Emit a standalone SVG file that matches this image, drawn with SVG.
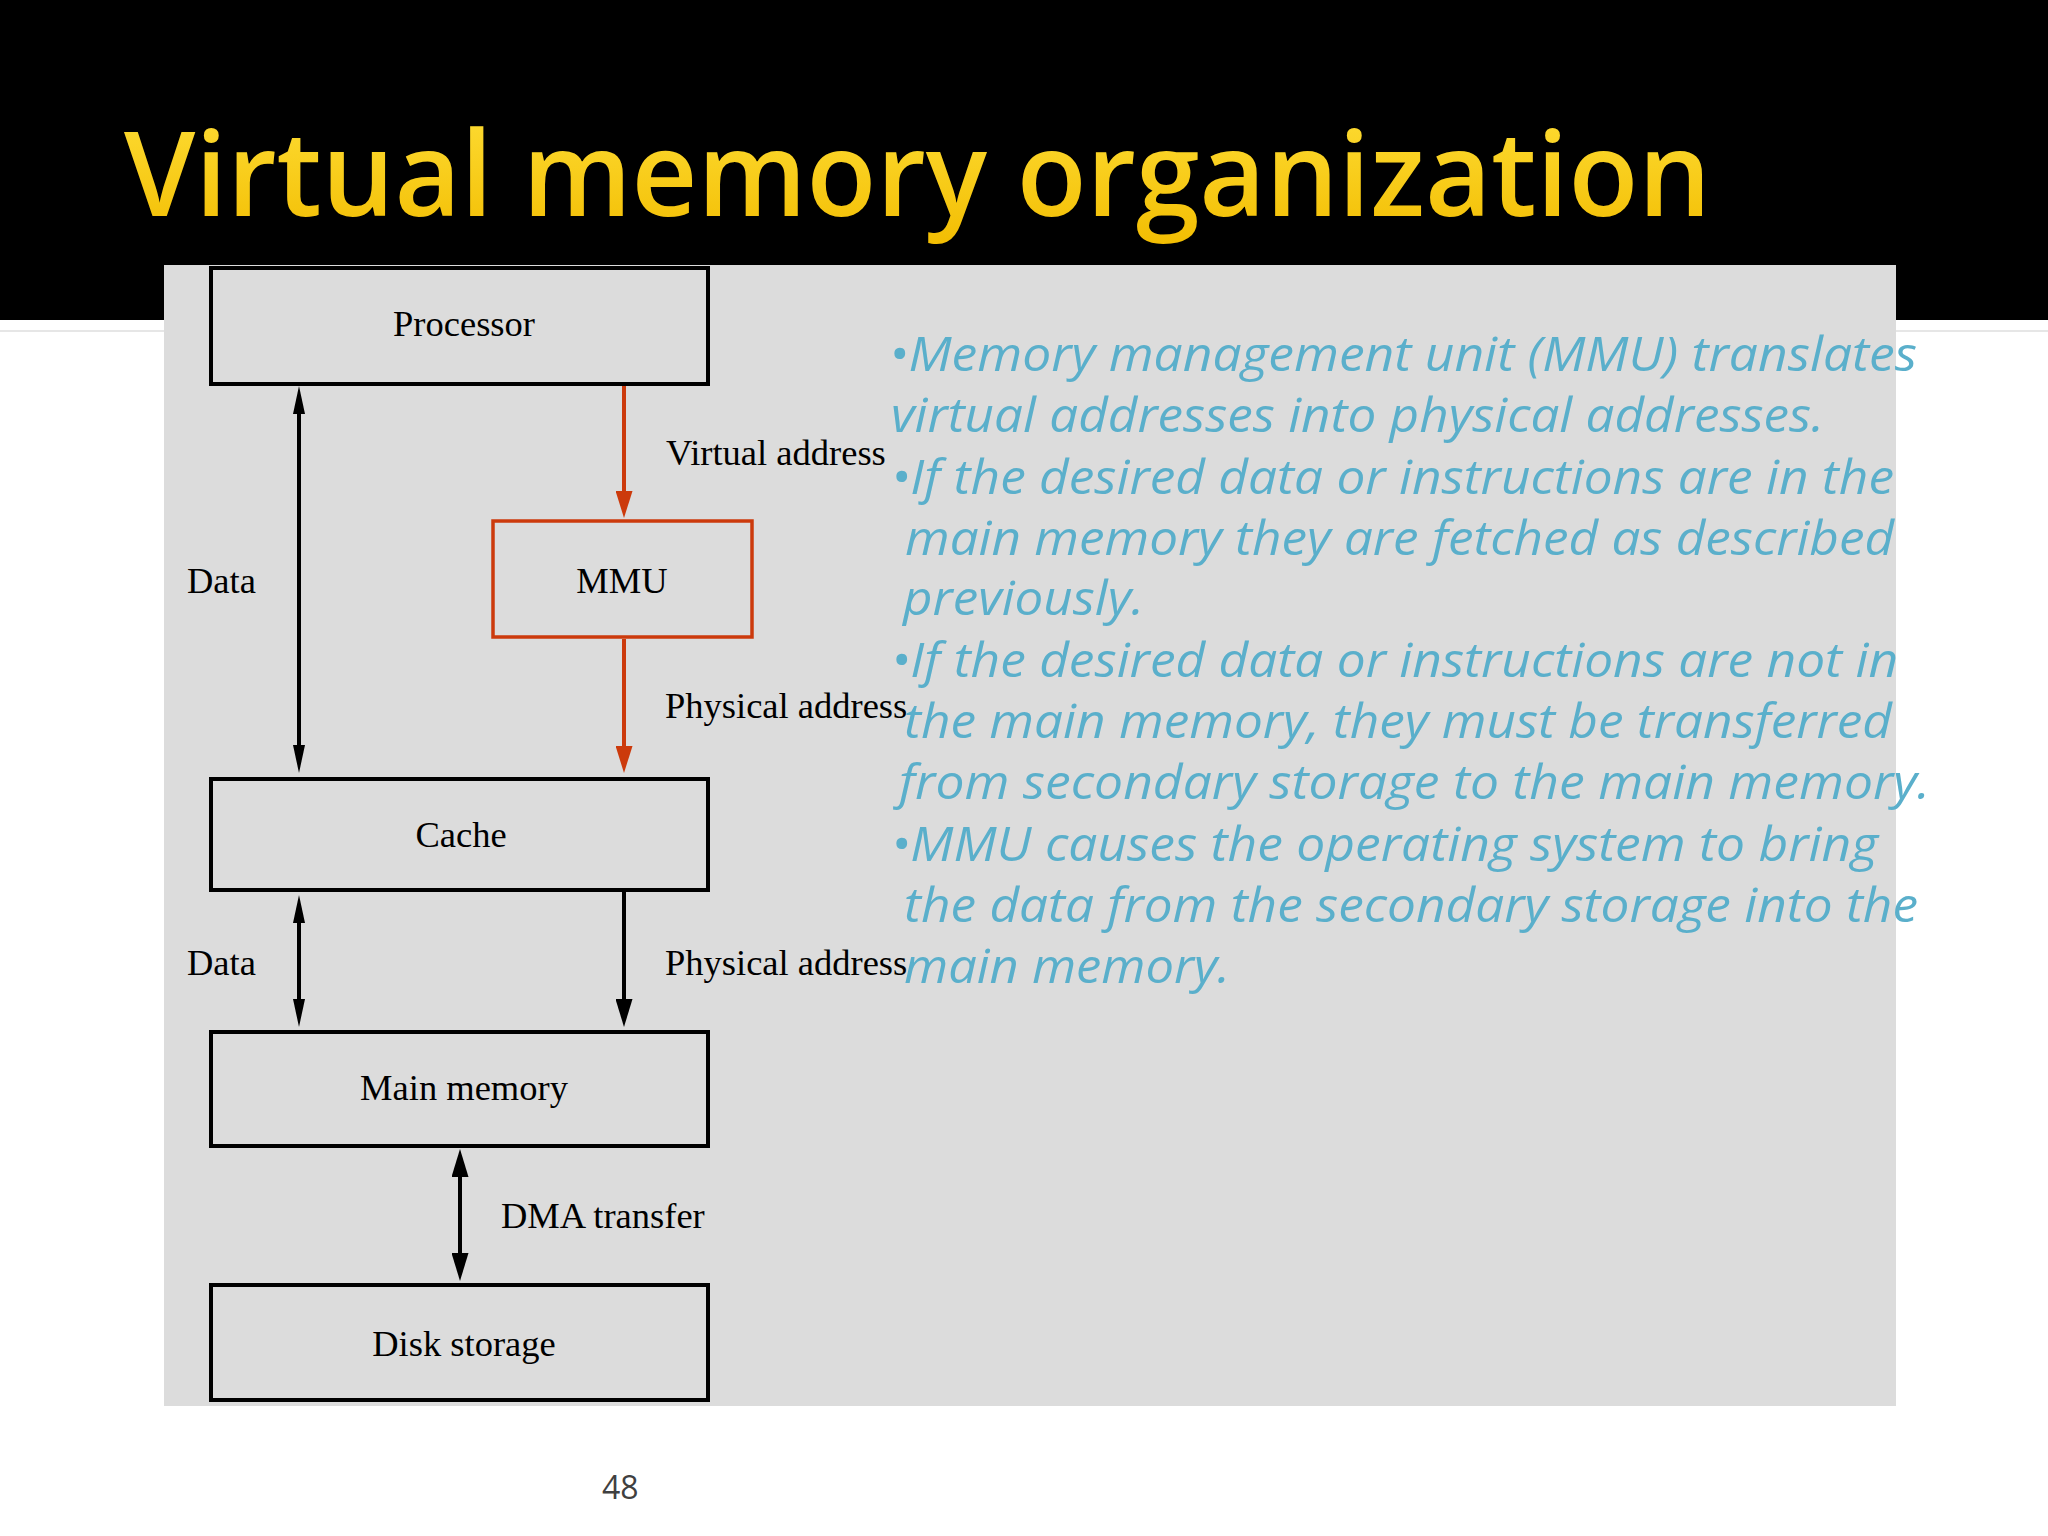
<svg xmlns="http://www.w3.org/2000/svg" width="2048" height="1536" viewBox="0 0 2048 1536">
<defs>
<linearGradient id="gold" x1="0" y1="0" x2="0" y2="1">
<stop offset="0" stop-color="#FFE03A"/>
<stop offset="1" stop-color="#F2BC00"/>
</linearGradient>
<marker id="ah" viewBox="0 0 28 12" refX="18" refY="6" markerWidth="28" markerHeight="12" markerUnits="userSpaceOnUse" orient="auto-start-reverse">
<path d="M0,0 L28,6 L0,12 z" fill="#000"/>
</marker>
<marker id="ahw" viewBox="0 0 28 17" refX="18" refY="8.5" markerWidth="28" markerHeight="17" markerUnits="userSpaceOnUse" orient="auto-start-reverse">
<path d="M0,0 L28,8.5 L0,17 z" fill="#000"/>
</marker>
<marker id="ahr" viewBox="0 0 27 17" refX="17" refY="8.5" markerWidth="27" markerHeight="17" markerUnits="userSpaceOnUse" orient="auto">
<path d="M0,0 L27,8.5 L0,17 z" fill="#CC3A0C"/>
</marker>
</defs>
<style>
.box{fill:none;stroke:#000;stroke-width:4}
.rbox{fill:none;stroke:#CC3A0C;stroke-width:3.5}
.lbl{font-family:"Liberation Serif","Times New Roman",serif;font-size:36.5px;fill:#000}
.c{text-anchor:middle}
.line{stroke:#000;stroke-width:4;fill:none}
.rline{stroke:#CC3A0C;stroke-width:4;fill:none}
.bt{font-family:"Open Sans","Noto Sans",sans-serif;font-style:italic;font-size:48px;fill:#5AAFCB}
</style>
<rect x="0" y="0" width="2048" height="1536" fill="#FFFFFF"/>
<rect x="0" y="0" width="2048" height="320" fill="#000000"/>
<rect x="0" y="330" width="2048" height="2" fill="#E6E6E6"/>
<text x="124" y="216" textLength="1587" lengthAdjust="spacingAndGlyphs" font-family="'Open Sans','Noto Sans',sans-serif" font-weight="600" font-size="118" fill="url(#gold)">Virtual memory organization</text>
<rect x="164" y="265" width="1732" height="1141" fill="#DCDCDC"/>

<g id="connectors">
<path class="line" d="M299,396 L299,763" marker-start="url(#ah)" marker-end="url(#ah)"/>
<path class="rline" d="M624,386 L624,508" marker-end="url(#ahr)"/>
<path class="rline" d="M624,639 L624,763" marker-end="url(#ahr)"/>
<path class="line" d="M299,905 L299,1017" marker-start="url(#ah)" marker-end="url(#ah)"/>
<path class="line" d="M624,892 L624,1017" marker-end="url(#ahw)"/>
<path class="line" d="M460,1159 L460,1271" marker-start="url(#ahw)" marker-end="url(#ahw)"/>
<text class="lbl" x="666" y="465">Virtual address</text>
<text class="lbl" x="187" y="593">Data</text>
<text class="lbl" x="665" y="718">Physical address</text>
<text class="lbl" x="187" y="975">Data</text>
<text class="lbl" x="665" y="975">Physical address</text>
<text class="lbl" x="501" y="1228">DMA transfer</text>
</g>

<g id="processor">
<rect class="box" x="211" y="268" width="497" height="116"/>
<text class="lbl c" x="464" y="336">Processor</text>
</g>
<g id="mmu">
<rect class="rbox" x="493" y="521" width="259" height="116"/>
<text class="lbl c" x="622" y="593">MMU</text>
</g>
<g id="cache">
<rect class="box" x="211" y="779" width="497" height="111"/>
<text class="lbl c" x="461" y="847">Cache</text>
</g>
<g id="main-memory">
<rect class="box" x="211" y="1032" width="497" height="114"/>
<text class="lbl c" x="464" y="1100">Main memory</text>
</g>
<g id="disk-storage">
<rect class="box" x="211" y="1285" width="497" height="115"/>
<text class="lbl c" x="464" y="1356">Disk storage</text>
</g>

<g id="bullets">
<text class="bt" x="889" y="371" textLength="1028" lengthAdjust="spacingAndGlyphs">•Memory management unit (MMU) translates</text>
<text class="bt" x="891" y="432" textLength="933" lengthAdjust="spacingAndGlyphs">virtual addresses into physical addresses.</text>
<text class="bt" x="891" y="494" textLength="1003" lengthAdjust="spacingAndGlyphs">•If the desired data or instructions are in the</text>
<text class="bt" x="905" y="555" textLength="989" lengthAdjust="spacingAndGlyphs">main memory they are fetched as described</text>
<text class="bt" x="903" y="615" textLength="241" lengthAdjust="spacingAndGlyphs">previously.</text>
<text class="bt" x="891" y="677" textLength="1007" lengthAdjust="spacingAndGlyphs">•If the desired data or instructions are not in</text>
<text class="bt" x="904" y="738" textLength="988" lengthAdjust="spacingAndGlyphs">the main memory, they must be transferred</text>
<text class="bt" x="899" y="799" textLength="1031" lengthAdjust="spacingAndGlyphs">from secondary storage to the main memory.</text>
<text class="bt" x="891" y="861" textLength="987" lengthAdjust="spacingAndGlyphs">•MMU causes the operating system to bring</text>
<text class="bt" x="904" y="922" textLength="1014" lengthAdjust="spacingAndGlyphs">the data from the secondary storage into the</text>
<text class="bt" x="904" y="983" textLength="326" lengthAdjust="spacingAndGlyphs">main memory.</text>
</g>

<text x="602" y="1499" font-family="'Open Sans','Noto Sans',sans-serif" font-size="32" fill="#404040">48</text>
</svg>
